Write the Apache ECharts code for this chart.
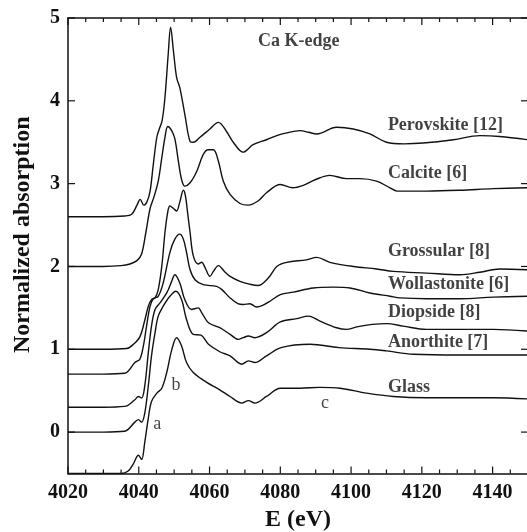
<!DOCTYPE html>
<html><head><meta charset="utf-8">
<script src="https://cdn.jsdelivr.net/npm/echarts@6/dist/echarts.min.js"></script>
<style>html,body{margin:0;padding:0;background:#fff}#c{width:527px;height:532px}</style>
</head><body><div id="c"></div>
<script>
// ---- tick values ----
const xMajorTicks = [4020, 4040, 4060, 4080, 4100, 4120, 4140];
const xMinorTicks = [4025,4030,4035,4045,4050,4055,4065,4070,4075,4085,4090,4095,4105,4110,4115,4125,4130,4135,4145];
const yTicks = [0, 1, 2, 3, 4, 5];

// ---- spectra: [energy (eV), normalized absorption] ----
const perovskite = [[4020,2.6],[4030,2.6],[4036,2.61],[4038,2.63],[4039.5,2.74],[4040.4,2.81],[4041.4,2.74],[4042.3,2.78],[4043.2,2.91],[4044.1,3.23],[4045.1,3.56],[4045.8,3.66],[4046.6,3.76],[4047.4,4.04],[4048.3,4.55],[4049.0,4.89],[4049.8,4.60],[4050.7,4.28],[4051.6,4.16],[4053,3.84],[4054.5,3.51],[4055.4,3.50],[4057.3,3.56],[4060.1,3.66],[4062.5,3.74],[4064.8,3.63],[4066.7,3.50],[4069.5,3.38],[4072.3,3.47],[4076.1,3.53],[4079,3.58],[4081.5,3.61],[4085.6,3.64],[4088,3.62],[4090.3,3.60],[4095.9,3.68],[4100.6,3.66],[4105.3,3.60],[4110,3.50],[4115,3.48],[4120.4,3.49],[4128.9,3.53],[4136.4,3.58],[4142,3.57],[4150,3.53]];
const calcite = [[4020,2.0],[4030,2.0],[4035,2.01],[4037.5,2.03],[4039.5,2.07],[4040.8,2.15],[4042,2.41],[4043.2,2.70],[4044.3,2.84],[4045.5,3.03],[4046.5,3.31],[4047.4,3.56],[4048.2,3.69],[4049.3,3.64],[4050.2,3.54],[4051.2,3.27],[4052.1,3.05],[4053,2.97],[4054.5,3.01],[4056.4,3.15],[4058.2,3.35],[4059.6,3.41],[4061.1,3.41],[4062.5,3.27],[4063.9,3.03],[4065.8,2.87],[4068.6,2.76],[4070.9,2.74],[4073.7,2.79],[4076.1,2.89],[4080,2.99],[4083.5,2.95],[4086.5,2.98],[4090,3.05],[4094,3.10],[4098.7,3.06],[4102.5,3.06],[4107.2,3.03],[4111,2.95],[4113,2.91],[4121.3,2.91],[4130.8,2.92],[4140.2,2.94],[4150,2.95]];
const grossular = [[4020,1.0],[4030,1.0],[4036.6,1.01],[4038.5,1.06],[4040.3,1.15],[4041.7,1.35],[4042.7,1.52],[4043.6,1.60],[4044.6,1.62],[4045.5,1.72],[4046.5,2.00],[4047.4,2.41],[4048.2,2.66],[4048.8,2.73],[4049.8,2.70],[4050.7,2.67],[4051.6,2.78],[4052.6,2.92],[4053.2,2.85],[4053.8,2.65],[4054.5,2.41],[4055.4,2.13],[4056.8,2.03],[4057.8,2.05],[4058.7,1.99],[4060.1,1.88],[4061.1,1.94],[4062.5,2.01],[4064.4,1.93],[4065.8,1.88],[4068.6,1.82],[4071,1.79],[4073.7,1.77],[4076.6,1.86],[4079,2.0],[4081.8,2.05],[4087.4,2.08],[4090.3,2.11],[4094,2.05],[4100.6,2.0],[4107.2,1.97],[4111.9,1.94],[4121.3,1.92],[4130.8,1.90],[4136.4,1.93],[4142,1.97],[4150,1.96]];
const wollastonite = [[4020,0.7],[4030,0.7],[4036,0.71],[4038.9,0.84],[4040.3,0.88],[4041.3,1.04],[4042.2,1.28],[4043.2,1.52],[4044.1,1.61],[4045.5,1.64],[4046.9,1.80],[4048.8,2.17],[4050.2,2.33],[4051.6,2.39],[4052.6,2.33],[4053.5,2.17],[4054.5,1.96],[4055.9,1.84],[4058.2,1.78],[4062,1.76],[4063.5,1.72],[4065.8,1.62],[4068,1.55],[4069.5,1.54],[4071.4,1.55],[4073.3,1.51],[4075,1.53],[4077.1,1.58],[4080,1.66],[4083.7,1.69],[4089.3,1.74],[4095,1.75],[4099.7,1.74],[4105.3,1.68],[4111,1.64],[4113.8,1.62],[4121.3,1.61],[4130.8,1.61],[4140.2,1.63],[4150,1.64]];
const diopside = [[4020,0.3],[4030,0.3],[4036,0.31],[4038.9,0.39],[4039.9,0.43],[4040.8,0.41],[4041.7,0.56],[4042.7,0.96],[4043.6,1.28],[4044.6,1.48],[4046,1.56],[4047.9,1.68],[4049.3,1.82],[4050.2,1.90],[4051.6,1.80],[4053,1.60],[4054.9,1.48],[4056.8,1.50],[4057.8,1.44],[4059.7,1.32],[4062.9,1.26],[4065.8,1.18],[4068.1,1.12],[4069.5,1.14],[4071,1.16],[4072.8,1.14],[4076.1,1.20],[4080,1.33],[4084.6,1.37],[4088,1.40],[4091.2,1.34],[4095.9,1.26],[4098.7,1.24],[4101.6,1.27],[4106,1.30],[4110,1.31],[4114.7,1.28],[4121.3,1.24],[4130.8,1.24],[4140.2,1.24],[4150,1.22]];
const anorthite = [[4020,0.0],[4030,0.0],[4036,0.01],[4038.9,0.12],[4039.9,0.15],[4040.8,0.12],[4041.7,0.23],[4042.7,0.56],[4043.6,0.92],[4044.6,1.20],[4045.5,1.40],[4046.9,1.52],[4048.8,1.64],[4050.5,1.70],[4052.1,1.60],[4053.5,1.36],[4055.4,1.18],[4057.6,1.17],[4059.7,1.06],[4062.9,0.97],[4065.8,0.92],[4069.1,0.82],[4071,0.86],[4072.8,0.84],[4076.1,0.92],[4080.2,1.02],[4088.4,1.06],[4096.5,1.02],[4105.3,1.0],[4110,0.98],[4117.6,0.94],[4130.8,0.93],[4150,0.93]];
const glass = [[4020,-0.5],[4030,-0.5],[4035,-0.5],[4037,-0.47],[4038.5,-0.38],[4039.9,-0.28],[4040.8,-0.33],[4041.7,-0.12],[4042.7,0.17],[4043.6,0.37],[4045.1,0.47],[4046.5,0.53],[4047.9,0.72],[4049.3,0.99],[4050.7,1.14],[4052.1,1.04],[4053.5,0.84],[4055.4,0.72],[4059.2,0.60],[4062.9,0.51],[4065.8,0.43],[4069.1,0.35],[4071,0.38],[4072.8,0.35],[4076.1,0.43],[4080,0.53],[4085.6,0.53],[4091.2,0.54],[4096.9,0.53],[4104.4,0.47],[4111.9,0.43],[4121.3,0.415],[4130.8,0.415],[4140.2,0.415],[4150,0.40]];

const spectra = [
  { name: 'Perovskite [12]', data: perovskite },
  { name: 'Calcite [6]', data: calcite },
  { name: 'Grossular [8]', data: grossular },
  { name: 'Wollastonite [6]', data: wollastonite },
  { name: 'Diopside [8]', data: diopside },
  { name: 'Anorthite [7]', data: anorthite },
  { name: 'Glass', data: glass }
];

// text annotations anchored in data coordinates
const curveLabels = [
  { name: 'Perovskite [12]', value: [4110.4, 3.70] },
  { name: 'Calcite [6]', value: [4110.4, 3.12] },
  { name: 'Grossular [8]', value: [4110.4, 2.18] },
  { name: 'Wollastonite [6]', value: [4110.4, 1.78] },
  { name: 'Diopside [8]', value: [4110.4, 1.44] },
  { name: 'Anorthite [7]', value: [4110.4, 1.08] },
  { name: 'Glass', value: [4110.4, 0.54] },
  { name: 'Ca K-edge', value: [4073.7, 4.72] }
];
const featureLabels = [
  { name: 'a', value: [4045.2, 0.10] },
  { name: 'b', value: [4050.5, 0.56] },
  { name: 'c', value: [4092.6, 0.35] }
];

const FONT = '"Liberation Serif", "Times New Roman", serif';
const ink = '#111';
const X_MIN = 4020, X_MAX = 4150, Y_MIN = -0.5, Y_MAX = 5;
const MAJOR = 7, MINOR = 4;

// tick marks: [value, side(0 bottom,1 top,2 left,3 right), length]
const tickMarks = [];
xMajorTicks.forEach(v => { tickMarks.push([v, 0, MAJOR]); tickMarks.push([v, 1, MAJOR]); });
xMinorTicks.forEach(v => { tickMarks.push([v, 0, MINOR]); tickMarks.push([v, 1, MINOR]); });
yTicks.forEach(v => { tickMarks.push([v, 2, MAJOR]); tickMarks.push([v, 3, MAJOR]); });

const chart = echarts.init(document.getElementById('c'), null, { renderer: 'canvas' });

const option = {
  animation: false,
  backgroundColor: '#fff',
  grid: { left: 68, top: 18, width: 460, height: 455.5, outerBoundsMode: 'none', containLabel: false },
  xAxis: [
    {
      type: 'value', min: X_MIN, max: X_MAX, position: 'bottom',
      name: 'E (eV)', nameLocation: 'middle', nameGap: 32,
      nameTextStyle: { fontFamily: FONT, fontWeight: 'bold', fontSize: 24, color: ink },
      axisLine: { show: true, onZero: false, lineStyle: { color: ink, width: 1.5 } },
      axisTick: { show: false },
      axisLabel: { show: true, customValues: xMajorTicks, margin: 9, formatter: v => String(v), fontFamily: FONT, fontWeight: 'bold', fontSize: 20, color: ink },
      splitLine: { show: false }
    },
    {
      type: 'value', min: X_MIN, max: X_MAX, position: 'top',
      axisLine: { show: true, onZero: false, lineStyle: { color: ink, width: 1.5 } },
      axisTick: { show: false }, axisLabel: { show: false }, splitLine: { show: false }
    }
  ],
  yAxis: [
    {
      type: 'value', min: Y_MIN, max: Y_MAX, position: 'left',
      name: 'Normalized absorption', nameLocation: 'middle', nameGap: 33, nameRotate: 90,
      nameTextStyle: { fontFamily: FONT, fontWeight: 'bold', fontSize: 24, color: ink, padding: [0, 0, 0, 22] },
      axisLine: { show: true, onZero: false, lineStyle: { color: ink, width: 1.5 } },
      axisTick: { show: false },
      axisLabel: { show: true, customValues: yTicks, margin: 8, formatter: v => String(v), fontFamily: FONT, fontWeight: 'bold', fontSize: 20, color: ink },
      splitLine: { show: false }
    }
  ],
  series: spectra.map(s => ({
    type: 'line', name: s.name, data: s.data, xAxisIndex: 0, yAxisIndex: 0,
    showSymbol: false, smooth: 0.35, silent: true,
    lineStyle: { color: ink, width: 1.4 }
  })).concat([
    {
      type: 'custom', name: 'ticks', data: tickMarks, xAxisIndex: 0, yAxisIndex: 0, clip: false, silent: true,
      renderItem: function (params, api) {
        const v = api.value(0), side = api.value(1), len = api.value(2);
        let p, q;
        if (side === 0) { p = api.coord([v, Y_MIN]); q = [p[0], p[1] - len]; }
        else if (side === 1) { p = api.coord([v, Y_MAX]); q = [p[0], p[1] + len]; }
        else if (side === 2) { p = api.coord([X_MIN, v]); q = [p[0] + len, p[1]]; }
        else { p = api.coord([X_MAX, v]); q = [p[0] - len, p[1]]; }
        return { type: 'line', shape: { x1: p[0], y1: p[1], x2: q[0], y2: q[1] }, style: { stroke: ink, lineWidth: 1.2 } };
      }
    },
    {
      type: 'scatter', data: curveLabels, xAxisIndex: 0, yAxisIndex: 0, symbolSize: 0, silent: true,
      label: { show: true, position: 'right', distance: 0, formatter: '{b}', fontFamily: FONT, fontWeight: 'bold', fontSize: 18, color: ink }
    },
    {
      type: 'scatter', data: featureLabels, xAxisIndex: 0, yAxisIndex: 0, symbolSize: 0, silent: true,
      label: { show: true, position: 'inside', formatter: '{b}', fontFamily: FONT, fontWeight: 'normal', fontSize: 18, color: ink }
    }
  ])
};
chart.setOption(option);
</script>
</body></html>
